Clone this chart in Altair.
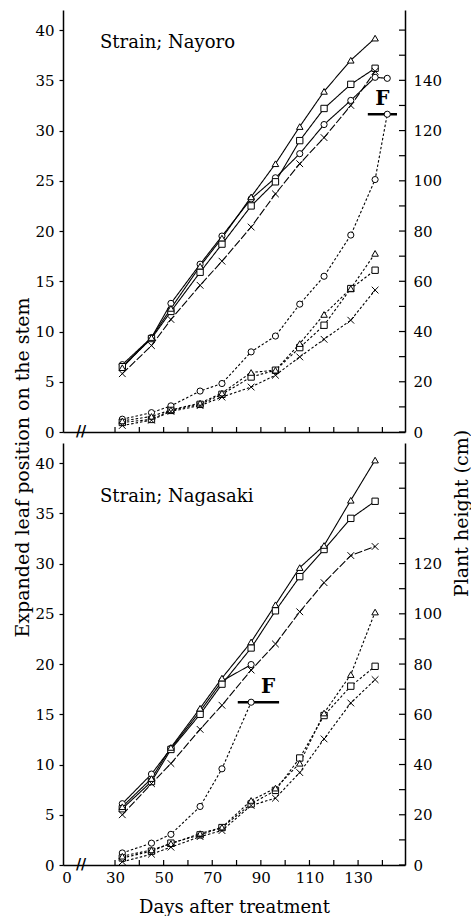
import altair as alt
import pandas as pd

SERIF = "DejaVu Serif"

days = [33, 45, 53, 65, 74, 86, 96, 106, 116, 127, 137]
series = ["circle", "square", "triangle", "x"]
strains = ["Strain; Nayoro", "Strain; Nagasaki"]

# ---- Strain Nayoro (top) ----
nay_circle_days = days + [142]
nay_leaf_circle = [6.7, 9.4, 12.8, 16.7, 19.5, 23.2, 25.3, 27.7, 30.6, 33.0, 35.3, 35.2]
nay_leaf_square = [6.5, 9.3, 12.0, 15.9, 18.7, 22.5, 24.9, 29.0, 32.2, 34.6, 36.2]
nay_leaf_triangle = [6.4, 9.4, 12.3, 16.5, 19.3, 23.4, 26.7, 30.4, 33.9, 37.0, 39.2]
nay_leaf_x = [5.8, 8.6, 11.2, 14.6, 17.0, 20.4, 23.7, 26.7, 29.3, 32.5, 35.9]

nay_ht_circle = [5.1, 7.7, 10.4, 16.3, 19.3, 31.9, 38.2, 50.9, 62.0, 78.4, 100.5, 126.5]
nay_ht_square = [3.8, 5.0, 8.6, 11.0, 15.0, 21.9, 24.6, 33.6, 42.5, 57.1, 64.4]
nay_ht_triangle = [4.4, 6.2, 8.8, 11.5, 15.5, 23.7, 24.6, 35.2, 46.8, 57.1, 71.1]
nay_ht_x = [2.6, 4.7, 8.2, 10.5, 13.9, 17.9, 22.6, 29.9, 36.9, 44.5, 56.5]

# ---- Strain Nagasaki (bottom) ----
nag_circle_days = days[:6]
nag_leaf_circle = [6.1, 9.05, 11.6, 15.3, 18.3, 19.95]
nag_leaf_square = [5.6, 8.3, 11.5, 15.0, 18.0, 21.6, 25.3, 28.7, 31.4, 34.5, 36.2]
nag_leaf_triangle = [5.8, 8.6, 11.7, 15.6, 18.6, 22.2, 25.9, 29.6, 31.8, 36.3, 40.3]
nag_leaf_x = [5.0, 8.1, 10.1, 13.5, 15.9, 19.4, 22.0, 25.2, 28.1, 30.8, 31.7]

nag_ht_circle = [4.8, 8.7, 12.2, 23.3, 38.3, 64.8]
nag_ht_square = [2.8, 5.5, 8.7, 12.0, 14.9, 24.3, 29.7, 42.6, 59.5, 71.2, 79.1]
nag_ht_triangle = [3.5, 6.0, 8.5, 12.5, 15.0, 25.7, 30.6, 40.5, 60.5, 75.8, 100.7]
nag_ht_x = [1.3, 4.3, 7.1, 11.3, 13.7, 23.7, 26.6, 36.8, 50.2, 64.5, 73.8]

# flowering (F) bars: start day, end day, height (cm), label day
f_start = [134, 80.5]
f_end = [146, 97.5]
f_height = [126.5, 64.8]
f_label_day = [140, 93]

# axis ticks
x_label_days = [10, 30, 50, 70, 90, 110, 130]   # 10 is the broken-axis origin, shown as "0"
x_tick_days = [30, 40, 50, 60, 70, 80, 90, 100, 110, 120, 130, 140]
leaf_ticks = [0, 5, 10, 15, 20, 25, 30, 35, 40]
height_labels_top = [0, 20, 40, 60, 80, 100, 120, 140]
height_labels_bottom = [0, 20, 40, 60, 80, 100, 120]
height_ticks = [0, 10, 20, 30, 40, 50, 60, 70, 80, 90, 100, 110, 120, 130, 140, 150, 160]
break_day = [16]

W, H = 342, 422
xscale = alt.Scale(domain=[8.6, 149.3], nice=False, zero=False)
leaf_scale = alt.Scale(domain=[0, 42], nice=False, zero=True)
ht_scale = alt.Scale(domain=[0, 168], nice=False, zero=True)
X_PATH = "M-1,-1L1,1M-1,1L1,-1"
shape_scale = alt.Scale(domain=series, range=["circle", "square", "triangle-up", X_PATH])
size_scale = alt.Scale(domain=series, range=[38, 45, 42, 34])


def build_df(circle_days, leaf, ht):
    rows = []
    for ser, vals in zip(series, leaf):
        dl = circle_days if ser == "circle" else days
        for d, v in zip(dl, vals):
            rows.append(dict(series=ser, kind="leaf", day=d, value=v))
    for ser, vals in zip(series, ht):
        dl = circle_days if ser == "circle" else days
        for d, v in zip(dl, vals):
            rows.append(dict(series=ser, kind="height", day=d, value=v))
    return pd.DataFrame(rows)


def make_panel(i, df, bottom):
    if bottom:
        xax = alt.Axis(values=x_label_days, labelExpr="datum.value == 10 ? '0' : datum.label",
                       tickSize=0, labelPadding=5, labelFlush=False, title="Days after treatment",
                       titlePadding=13, grid=False, domainWidth=1.5)
    else:
        xax = alt.Axis(labels=False, ticks=False, title=None, grid=False, domainWidth=1.5)

    def X(field):
        return alt.X(f"{field}:Q", scale=xscale, axis=xax)

    if bottom:
        lax = alt.Axis(values=leaf_ticks, tickSize=4, labelPadding=5, title=None, grid=False,
                       domainWidth=1.5)
        rax = alt.Axis(values=height_labels_bottom, tickSize=0, labelPadding=8, grid=False,
                       domainWidth=1.5, orient="right", title="Plant height (cm)",
                       titleAngle=270, titleY=70, titleX=56, titleBaseline="middle",
                       titleAlign="center", titleFontSize=19)
    else:
        lax = alt.Axis(values=leaf_ticks, tickSize=4, labelPadding=5, grid=False,
                       domainWidth=1.5, title="Expanded leaf position on the stem",
                       titleY=457, titleX=-41, titleBaseline="middle", titleAlign="center",
                       titleFontSize=19)
        rax = alt.Axis(values=height_labels_top, tickSize=0, labelPadding=8, grid=False,
                       domainWidth=1.5, orient="right", title=None)

    def YL(field):
        return alt.Y(f"{field}:Q", scale=leaf_scale, axis=lax)

    def YR(field):
        return alt.Y(f"{field}:Q", scale=ht_scale, axis=rax)

    leaf_df = df[df.kind == "leaf"]
    ht_df = df[df.kind == "height"]

    leaf_lines = alt.Chart(leaf_df).mark_line(color="black", strokeWidth=1.1).encode(
        x=X("day"), y=YL("value"), detail="series:N",
        strokeDash=alt.StrokeDash("series:N", scale=alt.Scale(domain=series,
                                  range=[[1, 0], [1, 0], [1, 0], [8, 2]]), legend=None),
    )
    leaf_pts = alt.Chart(leaf_df).mark_point(filled=True, fill="white", stroke="black",
                                             strokeWidth=1, opacity=1).encode(
        x=X("day"), y=YL("value"),
        shape=alt.Shape("series:N", scale=shape_scale, legend=None),
        size=alt.Size("series:N", scale=size_scale, legend=None),
    )
    xticks = alt.Chart(pd.DataFrame({"t": x_tick_days})).mark_rule(color="black", strokeWidth=1.2).encode(
        x=X("t"), y=alt.value(H - 5), y2=alt.value(H)
    )
    brk = alt.Chart(pd.DataFrame({"b": break_day})).mark_text(
        text="//", font=SERIF, fontSize=14, fontWeight="bold", baseline="middle", color="black"
    ).encode(x=X("b"), y=alt.value(H))
    label = alt.Chart(pd.DataFrame({"label": [strains[i]]})).mark_text(
        align="left", baseline="middle", font=SERIF, fontSize=18, color="black"
    ).encode(x=alt.value(37), y=alt.value(54 if bottom else 33), text="label:N")

    left = alt.layer(leaf_lines, xticks, brk, label, leaf_pts)

    ht_lines = alt.Chart(ht_df).mark_line(color="black", strokeWidth=1.1, strokeDash=[2.5, 2]).encode(
        x=X("day"), y=YR("value"), detail="series:N"
    )
    fdf = pd.DataFrame({"f0": [f_start[i]], "f1": [f_end[i]], "h": [f_height[i]],
                        "fl": [f_label_day[i]], "txt": ["F"]})
    fbar = alt.Chart(fdf).mark_rule(color="black", strokeWidth=2.5).encode(
        x=X("f0"), x2="f1:Q", y=YR("h")
    )
    ftxt = alt.Chart(fdf).mark_text(font=SERIF, fontSize=20, fontWeight="bold", color="black",
                                    baseline="bottom", dy=-5).encode(
        x=X("fl"), y=YR("h"), text="txt:N"
    )
    ht_pts = alt.Chart(ht_df).mark_point(filled=True, fill="white", stroke="black",
                                         strokeWidth=1, opacity=1).encode(
        x=X("day"), y=YR("value"),
        shape=alt.Shape("series:N", scale=shape_scale, legend=None),
        size=alt.Size("series:N", scale=size_scale, legend=None),
    )
    rticks = alt.Chart(pd.DataFrame({"c": height_ticks})).mark_rule(color="black", strokeWidth=1.2).encode(
        x=alt.value(W - 6), x2=alt.value(W), y=YR("c")
    )
    right = alt.layer(ht_lines, fbar, ht_pts, ftxt, rticks)

    return alt.layer(left, right).resolve_scale(y="independent").properties(width=W, height=H)


top = make_panel(0, build_df(nay_circle_days,
                             [nay_leaf_circle, nay_leaf_square, nay_leaf_triangle, nay_leaf_x],
                             [nay_ht_circle, nay_ht_square, nay_ht_triangle, nay_ht_x]), False)
bottom = make_panel(1, build_df(nag_circle_days,
                                [nag_leaf_circle, nag_leaf_square, nag_leaf_triangle, nag_leaf_x],
                                [nag_ht_circle, nag_ht_square, nag_ht_triangle, nag_ht_x]), True)

chart = alt.vconcat(top, bottom, spacing=11, bounds="flush").properties(
    padding={"left": 13, "top": 10, "right": 0, "bottom": 0}, background="white"
).configure_view(stroke=None).configure_axis(
    labelFont=SERIF, labelFontSize=15, labelColor="black", titleFont=SERIF, titleFontSize=18,
    titleFontWeight="normal", titleColor="black", domainColor="black", tickColor="black",
    tickWidth=1.2,
)

chart.save("out.html", embed_options={"renderer": "svg", "actions": False})
